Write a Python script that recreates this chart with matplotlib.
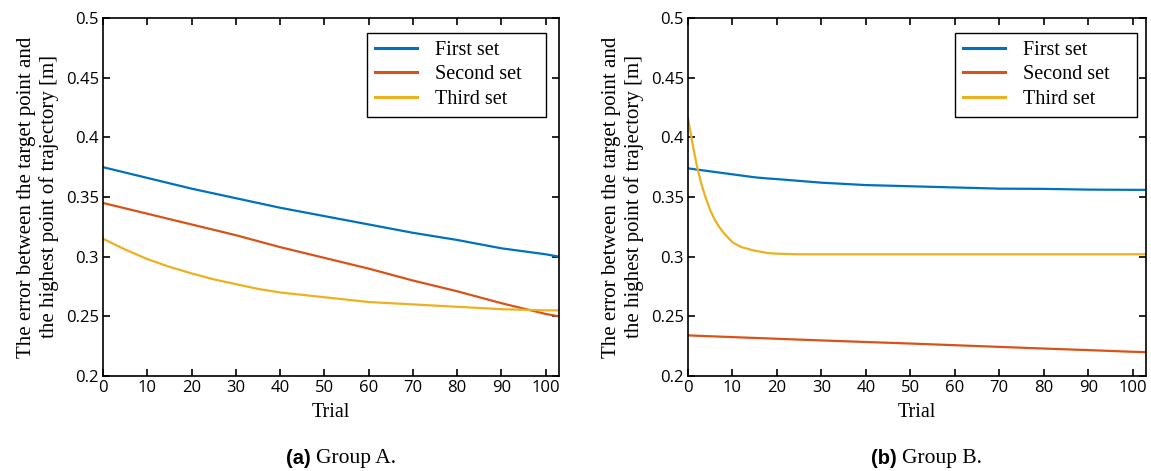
import matplotlib
matplotlib.use("Agg")
import matplotlib.pyplot as plt

# ---- data ----
trial_a = [0, 5, 10, 15, 20, 25, 30, 35, 40, 45, 50, 55, 60, 65, 70, 75, 80, 85, 90, 95, 100, 103]
first_a = [0.375, 0.3705, 0.366, 0.3615, 0.357, 0.353, 0.349, 0.345, 0.341, 0.3375, 0.334, 0.3305, 0.327, 0.3235, 0.320, 0.317, 0.314, 0.3105, 0.307, 0.3045, 0.302, 0.300]
second_a = [0.345, 0.3405, 0.336, 0.3315, 0.327, 0.3225, 0.318, 0.313, 0.308, 0.3035, 0.299, 0.2945, 0.290, 0.285, 0.280, 0.2755, 0.271, 0.266, 0.261, 0.2565, 0.252, 0.250]
third_a = [0.315, 0.306, 0.298, 0.2915, 0.286, 0.281, 0.277, 0.273, 0.270, 0.268, 0.266, 0.264, 0.262, 0.261, 0.260, 0.259, 0.258, 0.257, 0.256, 0.2555, 0.255, 0.255]

trial_b = [0, 1, 2, 3, 4, 5, 6, 7, 8, 10, 12, 15, 18, 20, 25, 30, 40, 50, 60, 70, 80, 90, 100, 103]
first_b = [0.374, 0.3735, 0.373, 0.3725, 0.372, 0.3715, 0.371, 0.3705, 0.370, 0.369, 0.368, 0.3665, 0.3655, 0.365, 0.3635, 0.362, 0.360, 0.359, 0.358, 0.357, 0.3568, 0.3562, 0.356, 0.356]
second_b = [0.234, 0.2339, 0.2337, 0.2336, 0.2334, 0.2333, 0.2332, 0.2330, 0.2329, 0.2326, 0.2323, 0.2319, 0.2315, 0.2312, 0.2305, 0.2298, 0.2285, 0.2272, 0.2258, 0.2244, 0.2230, 0.2217, 0.2203, 0.2200]
third_b = [0.416, 0.395, 0.376, 0.361, 0.349, 0.339, 0.331, 0.325, 0.320, 0.312, 0.308, 0.305, 0.303, 0.3025, 0.302, 0.302, 0.302, 0.302, 0.302, 0.302, 0.302, 0.302, 0.302, 0.302]

labels = ["First set", "Second set", "Third set"]
colors = ["#0072BD", "#D95319", "#EDB120"]
xticks = [0, 10, 20, 30, 40, 50, 60, 70, 80, 90, 100]
yticks = [0.2, 0.25, 0.3, 0.35, 0.4, 0.45, 0.5]
ytick_labels = ["0.2", "0.25", "0.3", "0.35", "0.4", "0.45", "0.5"]
ylabel = "The error between the target point and\nthe highest point of trajectory [m]"
captions = [("(a)", "Group A."), ("(b)", "Group B.")]

fig = plt.figure(figsize=(11.51, 4.71), dpi=100)
W, H = 1151, 471
positions = [(103, 559), (688, 1146)]
legend_boxes = [(0.579, 0.729, 0.392, 0.229), (0.583, 0.729, 0.397, 0.229)]
top, bottom = 18, 376

panels = [
    (trial_a, [first_a, second_a, third_a]),
    (trial_b, [first_b, second_b, third_b]),
]

serif = "Liberation Serif"
sans = "Open Sans"

for (x0, x1), (xs, series), (cap_b, cap_t), lb in zip(positions, panels, captions, legend_boxes):
    ax = fig.add_axes([x0 / W, 1 - bottom / H, (x1 - x0) / W, (bottom - top) / H])
    for ys, lab, c in zip(series, labels, colors):
        ax.plot(xs, ys, color=c, lw=1.6, label=lab)
    ax.set_xlim(0, 103)
    ax.set_ylim(0.2, 0.5)
    ax.set_xticks(xticks)
    ax.set_yticks(yticks)
    ax.set_yticklabels(ytick_labels)
    ax.tick_params(direction="in", top=True, right=True, length=5, width=1.2,
                   labelsize=12, pad=3)
    for lbl in ax.get_xticklabels() + ax.get_yticklabels():
        lbl.set_fontfamily(sans)
    for s in ax.spines.values():
        s.set_linewidth(1.2)
    ax.set_xlabel("Trial", fontfamily=serif, fontsize=14.5, labelpad=5)
    ax.set_ylabel(ylabel, fontfamily=serif, fontsize=15, labelpad=5, linespacing=1.2)
    leg = ax.legend(loc="upper right", bbox_to_anchor=lb, mode="expand",
                    prop={"family": serif, "size": 14.5},
                    fancybox=False, edgecolor="black", framealpha=1, handlelength=2.1,
                    handletextpad=0.9, borderpad=0.38, labelspacing=0.27, borderaxespad=0)
    leg.get_frame().set_linewidth(1.0)
    for ln in leg.get_lines():
        ln.set_linewidth(2.2)
    cx = (x0 + x1) / 2 / W
    fig.text(cx - 0.013, 1 - 458 / H, cap_b + " ", ha="right", va="center",
             fontfamily="Liberation Sans", fontweight="bold", fontsize=14.5)
    fig.text(cx - 0.013, 1 - 458 / H, cap_t, ha="left", va="center",
             fontfamily=serif, fontsize=15.5)

fig.savefig("out.png", dpi=100)
